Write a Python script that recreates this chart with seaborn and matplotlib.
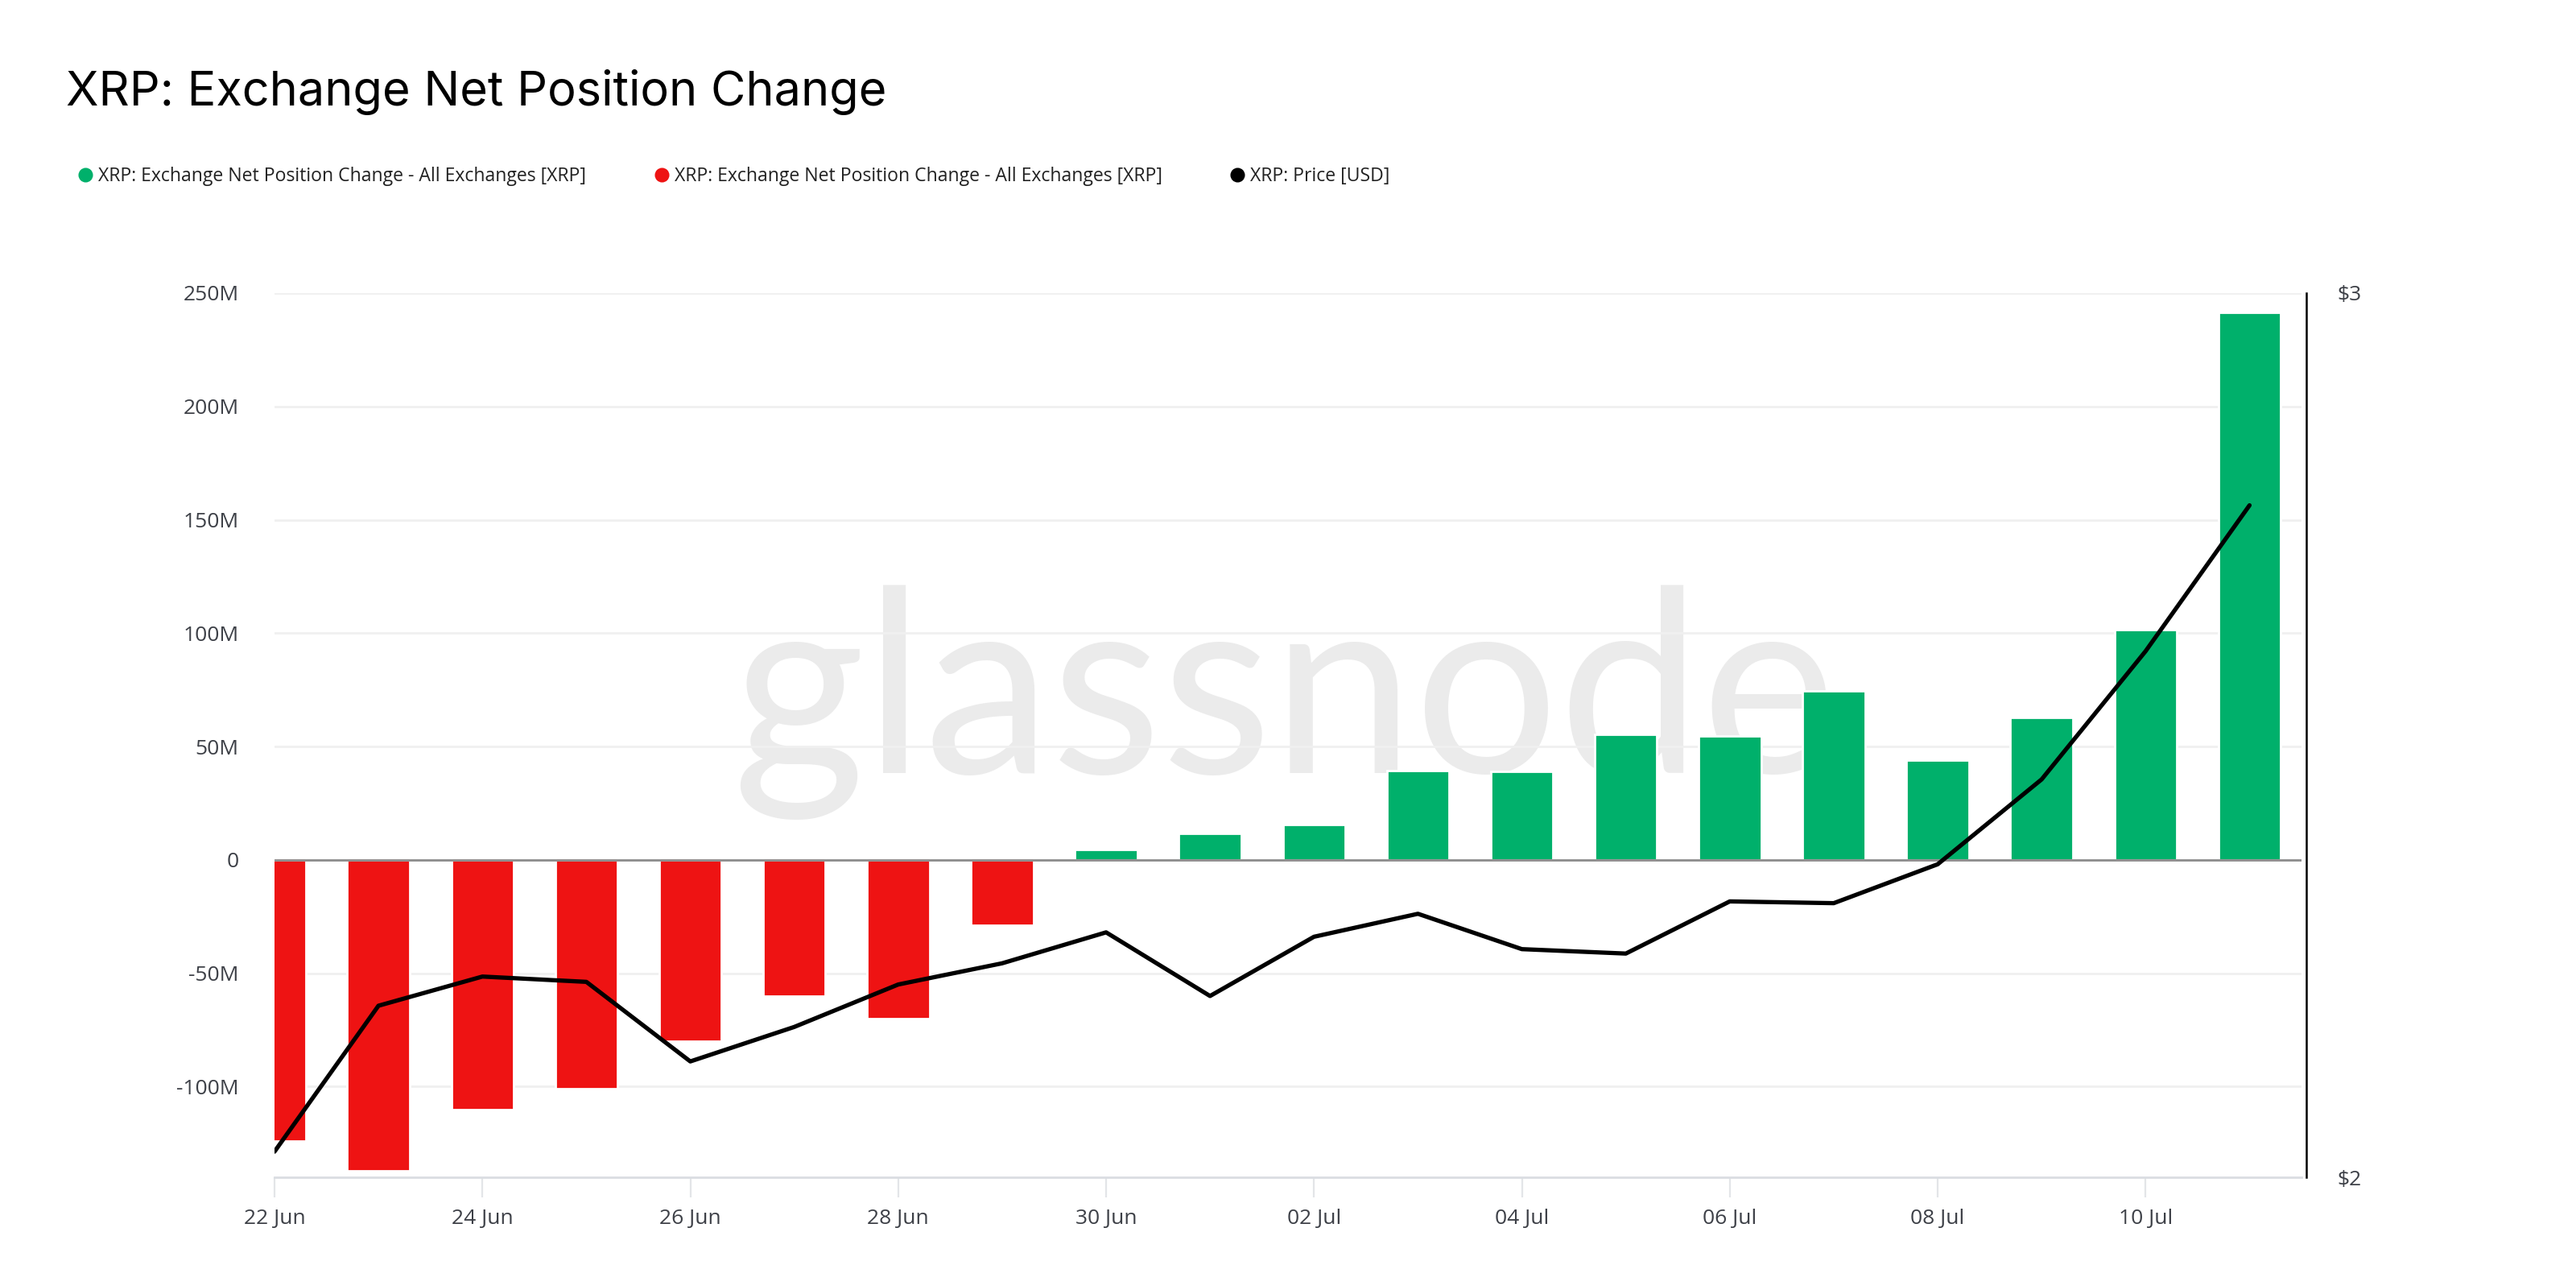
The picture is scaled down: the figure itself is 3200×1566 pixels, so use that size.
import numpy as np
import pandas as pd
import matplotlib
matplotlib.use('Agg')
import matplotlib.pyplot as plt
import seaborn as sns
from matplotlib.lines import Line2D
from matplotlib.ticker import FuncFormatter

dates = ['22 Jun', '23 Jun', '24 Jun', '25 Jun', '26 Jun', '27 Jun', '28 Jun', '29 Jun',
         '30 Jun', '01 Jul', '02 Jul', '03 Jul', '04 Jul', '05 Jul', '06 Jul', '07 Jul',
         '08 Jul', '09 Jul', '10 Jul', '11 Jul']

# exchange net position change, millions of XRP
net_change_m = [-124, -137, -110, -101, -80, -60, -70, -29,
                4.4, 11.5, 15.5, 39.5, 38.9, 55.3, 54.6, 74.4,
                44.1, 62.7, 101.5, 241.5]

# XRP price, USD
price = [2.029, 2.194, 2.227, 2.221, 2.131, 2.170, 2.218, 2.242,
         2.277, 2.205, 2.272, 2.298, 2.258, 2.253, 2.312, 2.310,
         2.354, 2.450, 2.595, 2.760]

y_ticks_m = [-100, -50, 0, 50, 100, 150, 200, 250]
price_ticks = [2, 3]

green = '#00b06b'
red = '#ee1313'
tick_color = '#3d4047'

df = pd.DataFrame({
    'day': np.arange(len(dates)),
    'value': np.array(net_change_m) * 1e6,
    'price': price,
})
df['sign'] = np.where(df['value'] >= 0, 'pos', 'neg')

sns.set_theme(style='white')
plt.rcParams['font.family'] = ['Open Sans', 'DejaVu Sans']

fig = plt.figure(figsize=(16, 7.83), dpi=200)
ax = fig.add_axes([341 / 3200, 1 - 1462 / 1566, (2859 - 341) / 3200, (1462 - 364) / 1566])

# watermark
ax.text(0.498, 0.457, 'glassnode', transform=ax.transAxes, ha='center', va='baseline',
        fontsize=114, color='#ebebeb', family=['Lato', 'DejaVu Sans'], zorder=0)

sns.barplot(data=df, x='day', y='value', hue='sign', palette={'pos': green, 'neg': red},
            native_scale=True, width=0.6, dodge=False, legend=False, ax=ax,
            saturation=1, zorder=2)

ax.axhline(0, color='#8c8c8c', lw=1.0, zorder=3)
ax.set_xlim(0, 19.5)
ax.set_ylim(-140e6, 250e6)
ax.set_yticks([v * 1e6 for v in y_ticks_m])
ax.yaxis.set_major_formatter(FuncFormatter(lambda v, p: '0' if v == 0 else f'{v / 1e6:.0f}M'))
ax.set_xticks(df['day'][::2])
ax.set_xticklabels(dates[::2])
ax.grid(axis='y', color='#f0f0f0', lw=1.0, zorder=1)
ax.grid(axis='x', visible=False)
ax.set_axisbelow(True)
ax.set_xlabel('')
ax.set_ylabel('')
for s in ['top', 'right', 'left']:
    ax.spines[s].set_visible(False)
ax.spines['bottom'].set_color('#dadde2')
ax.spines['bottom'].set_linewidth(1.0)
ax.tick_params(axis='y', length=0, pad=16, labelsize=9.5, labelcolor=tick_color)
ax.tick_params(axis='x', length=9, width=0.8, color='#e3e5e8', pad=5,
               labelsize=9.5, labelcolor=tick_color, bottom=True)

ax2 = ax.twinx()
sns.lineplot(data=df, x='day', y='price', color='black', lw=1.9, ax=ax2, zorder=5)
ax2.set_ylim(2, 3)
ax2.set_yticks(price_ticks)
ax2.yaxis.set_major_formatter(FuncFormatter(lambda v, p: f'${v:.0f}'))
ax2.set_xlim(0, 19.5)
ax2.set_ylabel('')
ax2.grid(False)
for s in ['top', 'left', 'bottom']:
    ax2.spines[s].set_visible(False)
ax2.spines['right'].set_position(('outward', 2))
ax2.spines['right'].set_color('black')
ax2.spines['right'].set_linewidth(0.9)
ax2.tick_params(axis='y', length=0, pad=14, labelsize=9.5, labelcolor=tick_color)

fig.text(82 / 3200, 1 - 131 / 1566, 'XRP: Exchange Net Position Change', fontsize=21.4,
         family=['Inter', 'DejaVu Sans'], color='black', va='baseline', ha='left')

handles = [
    Line2D([], [], marker='o', ls='', color=green, markersize=5.5),
    Line2D([], [], marker='o', ls='', color=red, markersize=5.5),
    Line2D([], [], marker='o', ls='', color='black', markersize=5.5),
]
labels = ['XRP: Exchange Net Position Change - All Exchanges [XRP]',
          'XRP: Exchange Net Position Change - All Exchanges [XRP]',
          'XRP: Price [USD]']
fig.legend(handles, labels, loc='center left', bbox_to_anchor=(0.0245, 1 - 219 / 1566),
           ncol=3, frameon=False, fontsize=8.3, handlelength=0.6, handletextpad=0.4,
           columnspacing=3.75, labelcolor='#222222')

fig.savefig('out.png', dpi=200)
